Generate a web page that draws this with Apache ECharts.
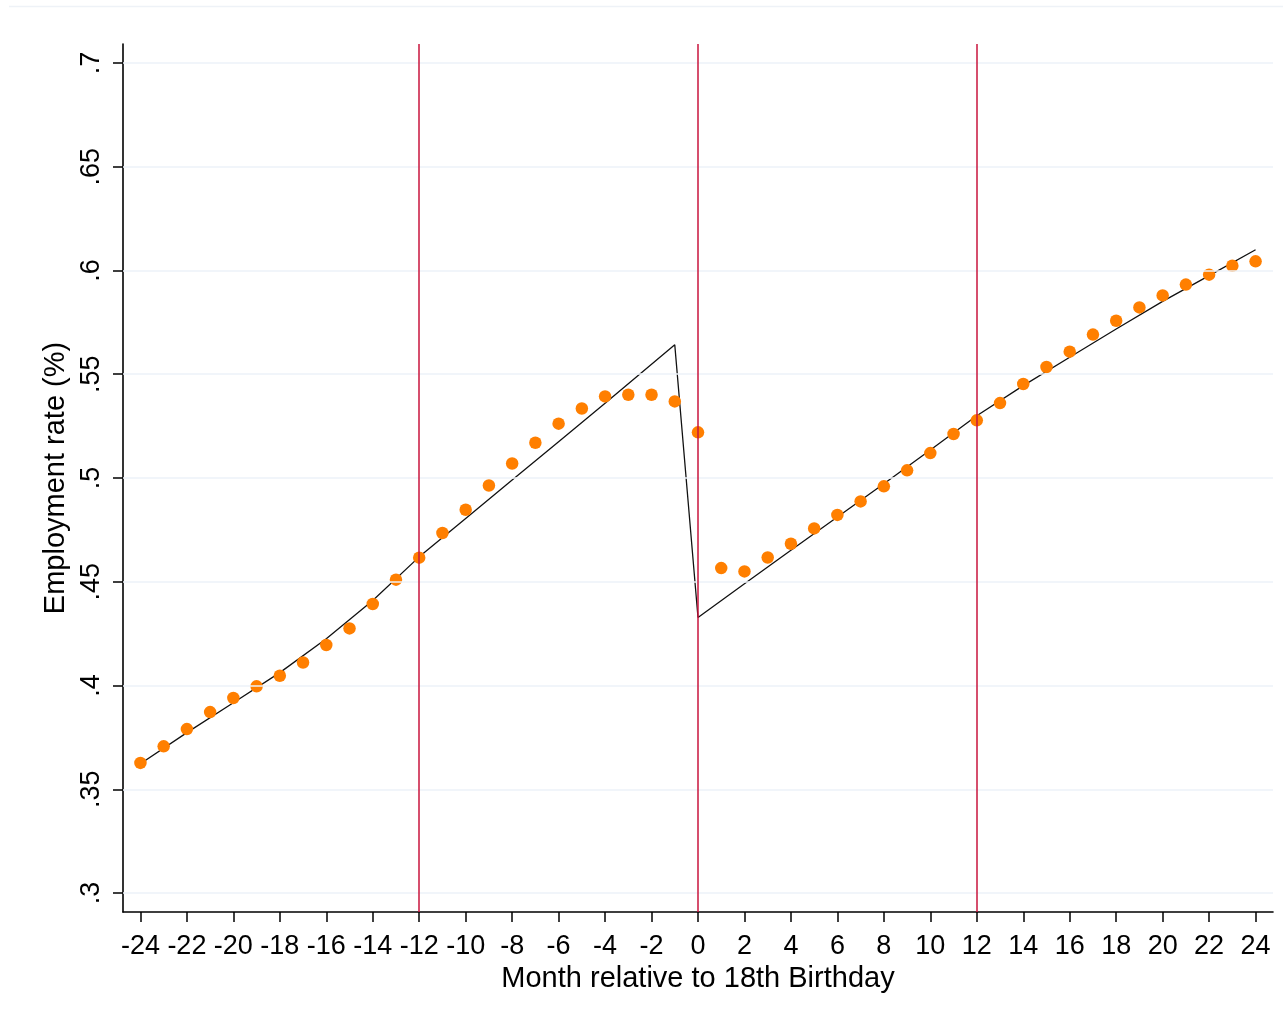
<!DOCTYPE html>
<html>
<head>
<meta charset="utf-8">
<script src="https://cdn.jsdelivr.net/npm/echarts@6/dist/echarts.min.js"></script>
<style>
  html, body { margin: 0; padding: 0; background: #fff; }
  #chart { width: 1283px; height: 1032px; }
</style>
</head>
<body>
<div id="chart"></div>
<script>
// Months relative to 18th birthday
const months = [-24,-23,-22,-21,-20,-19,-18,-17,-16,-15,-14,-13,-12,-11,-10,-9,-8,-7,-6,-5,-4,-3,-2,-1,
                0,1,2,3,4,5,6,7,8,9,10,11,12,13,14,15,16,17,18,19,20,21,22,23,24];
// Observed employment rate (orange dots)
const employment = [0.3627,0.3707,0.3790,0.3872,0.3940,0.3996,0.4047,0.4111,0.4195,0.4275,0.4393,0.4510,
                    0.4616,0.4735,0.4847,0.4964,0.5070,0.5170,0.5262,0.5335,0.5393,0.5401,0.5401,0.5369,
                    0.5220,0.4566,0.4550,0.4617,0.4683,0.4757,0.4822,0.4887,0.4960,0.5037,0.5120,0.5212,
                    0.5278,0.5361,0.5453,0.5535,0.5609,0.5691,0.5758,0.5822,0.5880,0.5932,0.5980,0.6023,0.6044];
// Fitted line (black)
const fitMonths = [-24,-22,-20,-18,-16,-14,-12,-10,-8,-6,-4,-2,-1,0,2,4,6,8,10,12,14,16,18,20,22,24];
const fitValues = [0.3623,0.3773,0.3917,0.4062,0.4225,0.4410,0.4620,0.4805,0.4990,0.5175,0.5360,0.5548,0.5642,
                   0.4328,0.4490,0.4652,0.4812,0.4972,0.5135,0.5300,0.5445,0.5582,0.5718,0.5851,0.5975,0.6100];
// Vertical reference lines
const cutoffs = [-12, 0, 12];
// Tick labels
const xTicks = [-24,-22,-20,-18,-16,-14,-12,-10,-8,-6,-4,-2,0,2,4,6,8,10,12,14,16,18,20,22,24];
const yTicks = [0.3,0.35,0.4,0.45,0.5,0.55,0.6,0.65,0.7];
const yTickLabels = ['.3','.35','.4','.45','.5','.55','.6','.65','.7'];

const FONT = '"Liberation Sans", Arial, sans-serif';
const chart = echarts.init(document.getElementById('chart'), null, { renderer: 'canvas' });

const dots = months.map((m, i) => [m, employment[i]]);
const fit = fitMonths.map((m, i) => [m, fitValues[i]]);

function yLabel(v) {
  for (let i = 0; i < yTicks.length; i++) {
    if (Math.abs(yTicks[i] - v) < 1e-6) return yTickLabels[i];
  }
  return '';
}

chart.setOption({
  animation: false,
  backgroundColor: '#ffffff',
  graphic: [{
    type: 'line',
    shape: { x1: 9, y1: 6.5, x2: 1283, y2: 6.5 },
    style: { stroke: '#eef2f7', lineWidth: 1.5 },
    silent: true
  }],
  grid: { left: 123, top: 44, right: 10, bottom: 120, containLabel: false },
  xAxis: {
    type: 'value',
    min: -24.75,
    max: 24.75,
    name: 'Month relative to 18th Birthday',
    nameLocation: 'middle',
    nameGap: 49,
    nameTextStyle: { fontFamily: FONT, fontSize: 29, color: '#000' },
    axisLine: { show: true, onZero: false, lineStyle: { color: '#000', width: 1.6 } },
    axisTick: { show: true, inside: false, length: 10, customValues: xTicks,
                lineStyle: { color: '#000', width: 1.5 } },
    axisLabel: { show: true, customValues: xTicks, margin: 21, fontFamily: FONT, fontSize: 27,
                 color: '#000', hideOverlap: false, formatter: v => String(v) },
    splitLine: { show: false }
  },
  yAxis: {
    type: 'value',
    min: 0.29085,
    max: 0.70915,
    name: 'Employment rate (%)',
    nameLocation: 'middle',
    nameGap: 50,
    nameTextStyle: { fontFamily: FONT, fontSize: 29, color: '#000' },
    axisLine: { show: true, onZero: false, lineStyle: { color: '#000', width: 1.6 } },
    axisTick: { show: true, inside: false, length: 10, customValues: yTicks,
                lineStyle: { color: '#000', width: 1.5 } },
    axisLabel: { show: true, customValues: yTicks, rotate: 90, margin: 18, fontFamily: FONT,
                 fontSize: 27, color: '#000', hideOverlap: false, formatter: v => yLabel(v) },
    splitLine: { show: false }
  },
  series: [
    {
      name: 'grid',
      type: 'line',
      data: [],
      z: 1,
      silent: true,
      markLine: {
        silent: true,
        symbol: ['none', 'none'],
        label: { show: false },
        lineStyle: { color: '#edf2f8', width: 1.5, type: 'solid' },
        data: yTicks.map(v => ({ yAxis: v }))
      }
    },
    {
      name: 'cutoffs',
      type: 'line',
      data: [],
      z: 2,
      silent: true,
      markLine: {
        silent: true,
        symbol: ['none', 'none'],
        label: { show: false },
        lineStyle: { color: '#c8143c', width: 1.5, type: 'solid' },
        data: cutoffs.map(v => ({ xAxis: v }))
      }
    },
    {
      name: 'fit',
      type: 'line',
      data: fit,
      z: 3,
      symbol: 'none',
      smooth: false,
      silent: true,
      lineStyle: { color: '#111', width: 1.3 }
    },
    {
      name: 'employment',
      type: 'scatter',
      data: dots,
      z: 4,
      symbol: 'circle',
      symbolSize: 12.5,
      itemStyle: { color: '#ff7f00', opacity: 1 }
    }
  ]
});
</script>
</body>
</html>
